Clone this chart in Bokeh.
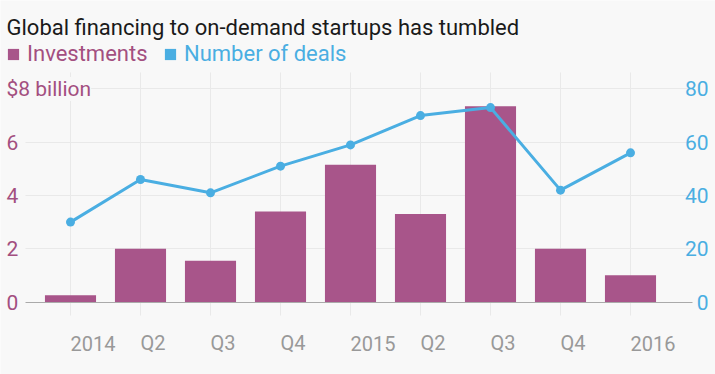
from bokeh.plotting import figure
from bokeh.models import (Range1d, FixedTicker, ColumnDataSource, LabelSet, Label,
                          Legend, LegendItem, Grid)
from bokeh.embed import file_html
from bokeh.resources import INLINE
from bokeh.core.properties import value

title_text = "Global financing to on-demand startups has tumbled"
quarters = ["2014", "Q2", "Q3", "Q4", "2015", "Q2", "Q3", "Q4", "2016"]
investments = [0.25, 2.0, 1.55, 3.4, 5.15, 3.3, 7.35, 2.0, 1.0]
deals = [30, 46, 41, 51, 59, 70, 73, 42, 56]
left_ticks = [0, 2, 4, 6, 8]
left_tick_labels = ["0", "2", "4", "6", "$8 billion"]
right_ticks = [0, 20, 40, 60, 80]
right_tick_labels = ["0", "20", "40", "60", "80"]
series_names = ["Investments", "Number of deals"]

BG = "#f8f8f8"
PURPLE = "#a8558a"
PURPLE_TEXT = "#a34f80"
BLUE = "#4aaee2"
GRAY = "#999999"
GRID = "#e9e9e9"
AXIS = "#aaaaaa"
FONT = "Roboto"

W, H = 715, 374
PXX, X0 = 70.0, 70.0      # px per category, px position of first category
PXY, Y0 = 26.63, 301.5    # px per $bn, px position of zero
RIGHT_SCALE = 10.0        # deals per $bn on the right axis

idx = list(range(len(quarters)))
xr = Range1d(-X0 / PXX, (W - X0) / PXX)
yr = Range1d(-(H - Y0) / PXY, Y0 / PXY)

# extent of the plotting area (in data units)
x_lo, x_hi = (25 - X0) / PXX, (692 - X0) / PXX
y_top = (Y0 - 72) / PXY
y_tick = (Y0 - 315) / PXY

p = figure(width=W, height=H, output_backend="svg", toolbar_location=None,
           x_range=xr, y_range=yr, x_axis_location=None, y_axis_location=None,
           min_border=0, background_fill_color=BG, border_fill_color=BG,
           outline_line_color=None)
p.extra_y_ranges = {"deals": Range1d(yr.start * RIGHT_SCALE, yr.end * RIGHT_SCALE)}
p.grid.visible = False

p.add_layout(Grid(dimension=0, ticker=FixedTicker(ticks=idx), cross_bounds=(y_tick, y_top),
                  grid_line_color=GRID))
p.add_layout(Grid(dimension=1, ticker=FixedTicker(ticks=left_ticks[1:]), cross_bounds=(x_lo, x_hi),
                  grid_line_color=GRID))
p.add_layout(Grid(dimension=1, ticker=FixedTicker(ticks=[0]), cross_bounds=(x_lo, x_hi),
                  grid_line_color=AXIS, level="guide"))

bars = p.vbar(x=idx, top=investments, width=0.73, fill_color=PURPLE, line_color=None)
p.line(idx, deals, y_range_name="deals", line_color=BLUE, line_width=3)
p.scatter(idx, deals, y_range_name="deals", size=9, fill_color=BLUE, line_color=None)
# hidden renderer, only used for the square legend swatch of the deals series
blue_box = p.vbar(x=idx, top=deals, y_range_name="deals", width=0.73,
                  fill_color=BLUE, line_color=None, visible=False)

# x tick labels, left aligned at tick
xsrc = ColumnDataSource(dict(x=idx, y=[0] * len(idx), text=quarters))
p.add_layout(LabelSet(x="x", y="y", text="text", source=xsrc, y_offset=-41,
                      text_align="left", text_baseline="middle", text_color=GRAY,
                      text_font_size="20px", text_font=value(FONT)))

# left axis labels
lsrc = ColumnDataSource(dict(x=[xr.start] * len(left_ticks), y=left_ticks, text=left_tick_labels))
p.add_layout(LabelSet(x="x", y="y", text="text", source=lsrc, x_offset=6,
                      text_align="left", text_baseline="middle", text_color=PURPLE_TEXT,
                      text_font_size="21px", text_font=value(FONT),
                      background_fill_color=BG))

# right axis labels
rsrc = ColumnDataSource(dict(x=[xr.end] * len(right_ticks), y=right_ticks, text=right_tick_labels))
p.add_layout(LabelSet(x="x", y="y", text="text", source=rsrc, y_range_name="deals",
                      x_offset=-7, text_align="right", text_baseline="middle",
                      text_color=BLUE, text_font_size="21px", text_font=value(FONT)))

# title
p.add_layout(Label(x=xr.start, y=yr.end, x_offset=6, y_offset=-27, text=title_text,
                   text_baseline="alphabetic", text_align="left",
                   text_font=FONT, text_font_size="22px", text_color="#1a1a1a"))

# legends
def make_legend(name, rend, color, loc):
    return Legend(items=[LegendItem(label=name, renderers=[rend])], location=loc,
                  orientation="horizontal", background_fill_alpha=0,
                  border_line_color=None, padding=0, margin=0, spacing=0,
                  glyph_width=14, glyph_height=14, label_standoff=7, label_height=14,
                  label_text_font=FONT, label_text_font_size="22px",
                  label_text_color=color, label_text_baseline="middle")

p.add_layout(make_legend(series_names[0], bars, PURPLE_TEXT, (6, H - 66)), "center")
p.add_layout(make_legend(series_names[1], blue_box, BLUE, (163, H - 66)), "center")

open("out.html", "w").write(file_html(p, INLINE))
